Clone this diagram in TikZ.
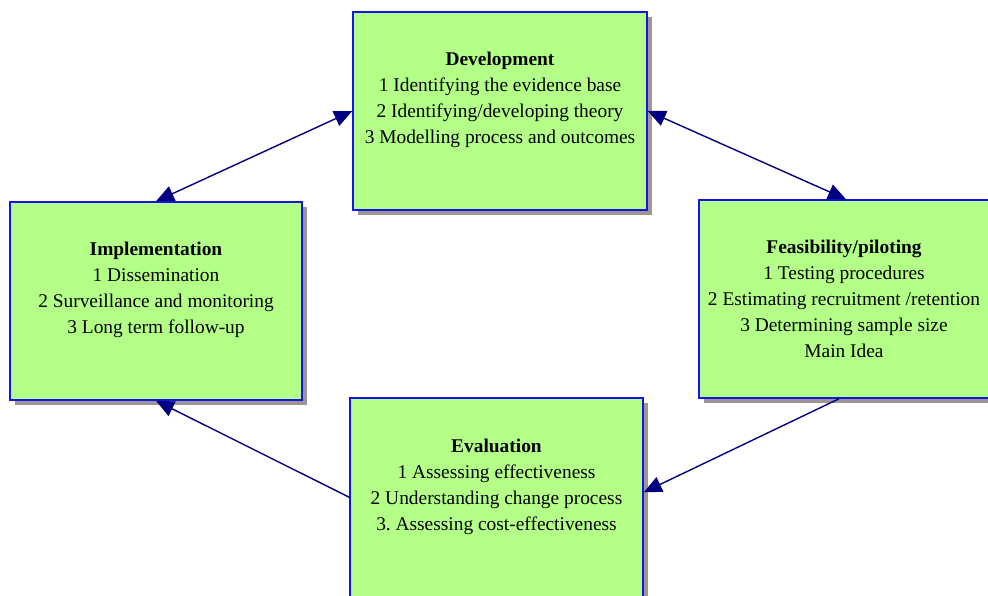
\documentclass[tikz,border=0pt]{standalone}
\usepackage{fontspec}
\setmainfont{Liberation Serif}
\usetikzlibrary{arrows.meta,shadows,calc}
\definecolor{boxfill}{RGB}{180,255,136}
\definecolor{boxline}{RGB}{20,20,230}
\definecolor{shadowgray}{RGB}{158,150,150}
\definecolor{arrowblue}{RGB}{0,0,128}
\tikzset{
  stagebox/.style={draw=boxline, line width=1.5pt, fill=boxfill, inner sep=0pt,
    minimum width=294pt, minimum height=198pt,
    drop shadow={shadow xshift=5pt, shadow yshift=-5pt, fill=shadowgray, opacity=1}},
  stagetext/.style={anchor=north, align=center, inner sep=0pt,
    font=\fontsize{19.4pt}{26pt}\selectfont},
  tip/.tip={Triangle[length=18pt,width=16pt,fill=arrowblue]},
  flow/.style={draw=arrowblue, line width=1.4pt, arrows={-tip}},
  twoway/.style={draw=arrowblue, line width=1.4pt, arrows={tip-tip}}
}
\frenchspacing
\begin{document}
\begin{tikzpicture}[x=1pt,y=-1pt]
  \useasboundingbox (0,0) rectangle (988,596);
  \clip (0,0) rectangle (988,596);

  % the four stage boxes
  \node[stagebox] (dev)  at (500,111) {};
  \node[stagebox, minimum width=292pt] (impl) at (156,301) {};
  \node[stagebox] (feas) at (846,299) {};
  \node[stagebox, minimum width=293pt, minimum height=214pt] (eval) at (496.5,505) {};

  % box contents
  \node[stagetext] (devtxt) at (500,52) {\textbf{Development}\\
    1 Identifying the evidence base\\
    2 Identifying/developing theory\\
    3 Modelling process and outcomes};
  \node[stagetext] (impltxt) at (156,242) {\textbf{Implementation}\\
    1 Dissemination\\
    2 Surveillance and monitoring\\
    3 Long term follow-up};
  \node[stagetext] (feastxt) at (844,240) {\textbf{Feasibility/piloting}\\
    1 Testing procedures\\
    2 Estimating recruitment /retention\\
    3 Determining sample size\\
    Main Idea};
  \node[stagetext] (evaltxt) at (496.5,439) {\textbf{Evaluation}\\
    1 Assessing effectiveness\\
    2 Understanding change process\\
    3. Assessing cost-effectiveness};

  % connection points on the box sides
  \coordinate (evalin)  at ($(eval.north east)+(0,-95pt)$);
  \coordinate (evalout) at ($(eval.north west)+(0,-100pt)$);
  \coordinate (feasout) at ($(feas.south)+(-7pt,0)$);

  % connectors
  \draw[twoway] (impl.north) -- (dev.west);
  \draw[twoway] (dev.east) -- (feas.north);
  \draw[flow] (feasout) -- (evalin);
  \draw[flow] (evalout) -- (impl.south);
\end{tikzpicture}
\end{document}
